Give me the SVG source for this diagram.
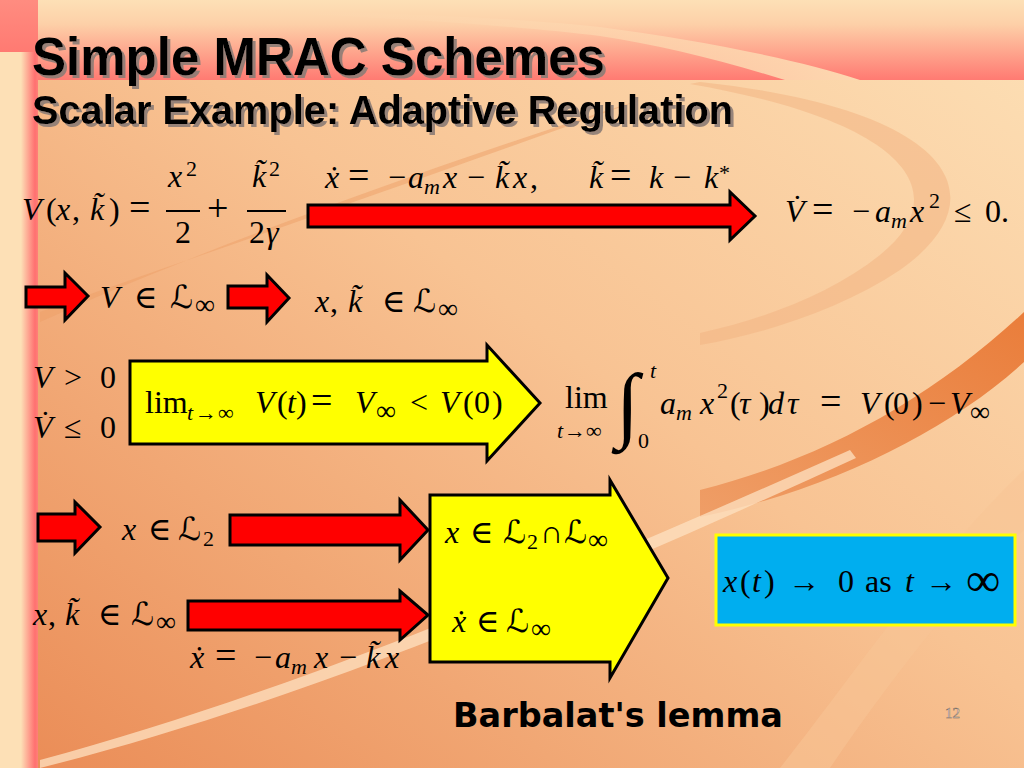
<svg xmlns="http://www.w3.org/2000/svg" width="1024" height="768" viewBox="0 0 1024 768">
<defs>
  <linearGradient id="gMain" x1="1" y1="0" x2="0" y2="1">
    <stop offset="0" stop-color="#fde0b6"/>
    <stop offset="0.45" stop-color="#f8c393"/>
    <stop offset="1" stop-color="#ea8b55"/>
  </linearGradient>
  <linearGradient id="gBand" x1="0" y1="0" x2="0" y2="1">
    <stop offset="0" stop-color="#fde0b6"/>
    <stop offset="0.3" stop-color="#fdd0a8"/>
    <stop offset="1" stop-color="#ff7a72"/>
  </linearGradient>
  <linearGradient id="gStrip" x1="0" y1="0" x2="1" y2="0">
    <stop offset="0" stop-color="#fde0b6"/>
    <stop offset="0.55" stop-color="#fde0b6"/>
    <stop offset="0.92" stop-color="#ff7070"/>
    <stop offset="1" stop-color="#ff8078"/>
  </linearGradient>
  <linearGradient id="gCorner" x1="0" y1="0" x2="0" y2="1">
    <stop offset="0" stop-color="#ff8c80"/>
    <stop offset="1" stop-color="#ff7a72"/>
  </linearGradient>
  <linearGradient id="gDark" x1="1" y1="0" x2="0" y2="1">
    <stop offset="0" stop-color="#e8742f"/>
    <stop offset="1" stop-color="#ee9a62"/>
  </linearGradient>
  <linearGradient id="gSwoosh" x1="0" y1="0" x2="1" y2="0">
    <stop offset="0" stop-color="#fdd8b0" stop-opacity="0"/>
    <stop offset="0.5" stop-color="#fdd8b0" stop-opacity="0.6"/>
    <stop offset="1" stop-color="#fdd8b0" stop-opacity="1"/>
  </linearGradient>
  <filter id="shadow" x="-5%" y="-20%" width="110%" height="140%">
    <feDropShadow dx="3" dy="3" stdDeviation="0.6" flood-color="#8c7c74" flood-opacity="0.9"/>
  </filter>
  <style>
    .m { font-family: "Liberation Serif", "Times New Roman", "DejaVu Serif", "DejaVu Sans", serif; font-size: 32px; fill: #000; }
    .i { font-style: italic; }
    .sub { font-size: 22px; }
    .inf { font-size: 28px; }
    .eq { font-size: 38px; }
    .big { font-size: 84px; }
    .huge { font-size: 48px; }
    .red { fill: #ff0000; stroke: #000; stroke-width: 3; stroke-linejoin: miter; }
    .yel { fill: #ffff00; stroke: #000; stroke-width: 3; stroke-linejoin: miter; }
    .frac { stroke: #000; stroke-width: 1.8; }
    .title { font-family: "Liberation Sans", Arial, sans-serif; font-weight: bold; fill: #000; }
  </style>
</defs>

<g id="background">
  <rect x="0" y="0" width="1024" height="768" fill="url(#gMain)"/>
  <rect x="38" y="0" width="986" height="80" fill="url(#gBand)"/>
  <path d="M 200 8 C 380 12 520 18 600 27 C 700 40 800 60 860 80 L 785 80 C 720 60 660 45 600 36 C 520 26 380 16 200 10 Z" fill="url(#gSwoosh)"/>
  <path d="M 40 322 C 200 250 420 170 640 100 C 420 180 200 255 40 312 Z" fill="#ee9f68" opacity="0.5"/>
  <path d="M 700 82 C 960 110 1000 200 900 270 C 840 310 760 335 700 345 L 700 333 C 760 320 830 295 880 255 C 960 190 900 120 690 84 Z" fill="#f2b483" opacity="0.55"/>
  <path d="M 1024 312 C 930 400 820 460 700 490 L 700 517 C 830 490 950 430 1024 362 Z" fill="url(#gDark)" opacity="0.9"/>
  <path d="M 40 760 C 300 690 580 570 850 450 L 856 458 C 590 580 310 700 40 768 Z" fill="#fde2c2" opacity="0.75"/>
  <path d="M 1024 470 C 930 560 850 680 780 768 L 830 768 C 890 680 960 590 1024 530 Z" fill="#f8c496" opacity="0.55"/>
  <rect x="0" y="52" width="38" height="716" fill="url(#gStrip)"/>
  <rect x="0" y="0" width="38" height="52" fill="url(#gCorner)"/>
</g>

<g id="title">
  <text class="title" x="32" y="75" font-size="54" textLength="573" lengthAdjust="spacingAndGlyphs" filter="url(#shadow)">Simple MRAC Schemes</text>
  <text class="title" x="32" y="124" font-size="40" textLength="701" lengthAdjust="spacingAndGlyphs" filter="url(#shadow)">Scalar Example: Adaptive Regulation</text>
</g>

<g id="connectors">
  <polygon class="red" points="308,205 730,205 730,192 755,216 730,240 730,227 308,227"/>
  <polygon class="red" points="26,287 65,287 65,273 88,296 65,320 65,307 26,307"/>
  <polygon class="red" points="228,286 267,286 267,275 289,298 267,322 267,308 228,308"/>
  <polygon class="red" points="38,514 75,514 75,502 100,527 75,553 75,541 38,541"/>
  <polygon class="red" points="230,515 400,515 400,500 428,530 400,560 400,545 230,545"/>
  <polygon class="red" points="188,601 400,601 400,591 428,615 400,640 400,630 188,630"/>
</g>

<g id="node-lyapunov">
  <text class="m"><tspan x="22" y="220" class="i">V</tspan><tspan x="46">(</tspan><tspan x="56" class="i">x</tspan><tspan x="72">,</tspan><tspan x="90" class="i">k̃</tspan><tspan x="109">)</tspan><tspan x="129" class="eq">=</tspan></text>
  <text class="m"><tspan x="168" y="187" class="i">x</tspan><tspan x="186" y="176" class="sub">2</tspan></text>
  <line class="frac" x1="166" y1="211" x2="200" y2="211"/>
  <text class="m" x="175" y="243">2</text>
  <text class="m"><tspan x="207" y="221" class="eq">+</tspan></text>
  <text class="m"><tspan x="252" y="187" class="i">k̃</tspan><tspan x="269" y="176" class="sub">2</tspan></text>
  <line class="frac" x1="247" y1="211" x2="286" y2="211"/>
  <text class="m"><tspan x="249" y="243">2</tspan><tspan x="266" class="i">γ</tspan></text>
</g>

<g id="node-dynamics">
  <text class="m"><tspan x="325" y="188" class="i">ẋ</tspan><tspan x="348" class="eq">=</tspan><tspan x="388">−</tspan><tspan x="408" class="i">a</tspan><tspan x="424" y="194" class="sub i">m</tspan><tspan x="443" y="188" class="i">x</tspan><tspan x="467">−</tspan><tspan x="495" class="i">k̃</tspan><tspan x="513" class="i">x</tspan><tspan x="530">,</tspan><tspan x="589" class="i">k̃</tspan><tspan x="610" class="eq">=</tspan><tspan x="649" class="i">k</tspan><tspan x="673">−</tspan><tspan x="704" class="i">k</tspan><tspan x="719" y="180" class="sub">*</tspan></text>
</g>

<g id="node-vdot">
  <text class="m"><tspan x="785" y="222" class="i">V̇</tspan><tspan x="812" class="eq">=</tspan><tspan x="852">−</tspan><tspan x="875" class="i">a</tspan><tspan x="891" y="228" class="sub i">m</tspan><tspan x="910" y="222" class="i">x</tspan><tspan x="929" y="208" class="sub">2</tspan><tspan x="954" y="222">≤</tspan><tspan x="985">0</tspan><tspan x="1001">.</tspan></text>
</g>

<g id="node-v-bounded">
  <text class="m"><tspan x="100" y="308" class="i">V</tspan><tspan x="134">∈</tspan><tspan x="170">ℒ</tspan><tspan x="195" y="314" class="inf">∞</tspan></text>
</g>

<g id="node-xk-bounded">
  <text class="m"><tspan x="315" y="312" class="i">x</tspan><tspan x="330">,</tspan><tspan x="348" class="i">k̃</tspan><tspan x="382">∈</tspan><tspan x="413">ℒ</tspan><tspan x="438" y="318" class="inf">∞</tspan></text>
</g>

<g id="node-conditions">
  <text class="m"><tspan x="33" y="388" class="i">V</tspan><tspan x="64">&gt;</tspan><tspan x="100">0</tspan></text>
  <text class="m"><tspan x="33" y="438" class="i">V̇</tspan><tspan x="64">≤</tspan><tspan x="100">0</tspan></text>
</g>

<g id="node-limit">
  <polygon class="yel" points="130,361 487,361 487,345 540,403 487,461 487,444 130,444"/>
  <text class="m"><tspan x="145" y="413">lim</tspan><tspan x="187" y="420" class="sub i">t</tspan><tspan x="195" class="sub">→</tspan><tspan x="218" class="sub">∞</tspan><tspan x="255" y="413" class="i">V</tspan><tspan x="277">(</tspan><tspan x="287" class="i">t</tspan><tspan x="296">)</tspan><tspan x="311" class="eq">=</tspan><tspan x="355" class="i">V</tspan><tspan x="376" y="420" class="inf">∞</tspan><tspan x="410" y="413">&lt;</tspan><tspan x="440" class="i">V</tspan><tspan x="463">(</tspan><tspan x="474">0</tspan><tspan x="492">)</tspan></text>
</g>

<g id="node-integral">
  <text class="m"><tspan x="565" y="408">lim</tspan></text>
  <text class="m"><tspan x="557" y="438" class="sub i">t</tspan><tspan x="564" class="sub">→</tspan><tspan x="586" class="sub">∞</tspan></text>
  <text class="m"><tspan x="616" y="432" class="big">∫</tspan></text>
  <text class="m"><tspan x="650" y="378" class="sub i">t</tspan><tspan x="638" y="448" class="sub">0</tspan></text>
  <text class="m"><tspan x="660" y="414" class="i">a</tspan><tspan x="676" y="420" class="sub i">m</tspan><tspan x="700" y="414" class="i">x</tspan><tspan x="717" y="398" class="sub">2</tspan><tspan x="730" y="414">(</tspan><tspan x="739" class="i">τ</tspan><tspan x="759">)</tspan><tspan x="768" class="i">d</tspan><tspan x="787" class="i">τ</tspan><tspan x="820" class="eq">=</tspan><tspan x="860" class="i">V</tspan><tspan x="884">(</tspan><tspan x="893">0</tspan><tspan x="912">)</tspan><tspan x="928">−</tspan><tspan x="950" class="i">V</tspan><tspan x="970" y="421" class="inf">∞</tspan></text>
</g>

<g id="node-x-l2">
  <text class="m"><tspan x="122" y="540" class="i">x</tspan><tspan x="148">∈</tspan><tspan x="178">ℒ</tspan><tspan x="203" y="546" class="sub">2</tspan></text>
</g>

<g id="node-xk-bounded-2">
  <text class="m"><tspan x="33" y="625" class="i">x</tspan><tspan x="48">,</tspan><tspan x="65" class="i">k̃</tspan><tspan x="98">∈</tspan><tspan x="131">ℒ</tspan><tspan x="156" y="631" class="inf">∞</tspan></text>
</g>

<g id="node-dynamics-2">
  <text class="m"><tspan x="190" y="668" class="i">ẋ</tspan><tspan x="215" class="eq">=</tspan><tspan x="254">−</tspan><tspan x="275" class="i">a</tspan><tspan x="291" y="674" class="sub i">m</tspan><tspan x="314" y="668" class="i">x</tspan><tspan x="339">−</tspan><tspan x="366" class="i">k̃</tspan><tspan x="385" class="i">x</tspan></text>
</g>

<g id="node-barbalat">
  <polygon class="yel" points="430,495 610,495 610,480 668,578 610,678 610,662 430,662"/>
  <text class="m"><tspan x="445" y="543" class="i">x</tspan><tspan x="470">∈</tspan><tspan x="503">ℒ</tspan><tspan x="527" y="549" class="sub">2</tspan><tspan x="540" y="543">∩</tspan><tspan x="564">ℒ</tspan><tspan x="588" y="549" class="inf">∞</tspan></text>
  <text class="m"><tspan x="452" y="632" class="i">ẋ</tspan><tspan x="476">∈</tspan><tspan x="506">ℒ</tspan><tspan x="531" y="638" class="inf">∞</tspan></text>
</g>

<g id="node-result">
  <rect x="716" y="535" width="299" height="90" fill="#00aeef" stroke="#ffff00" stroke-width="3"/>
  <text class="m"><tspan x="723" y="592" class="i">x</tspan><tspan x="740">(</tspan><tspan x="752" class="i">t</tspan><tspan x="764">)</tspan><tspan x="788">→</tspan><tspan x="838">0</tspan><tspan x="865">as</tspan><tspan x="905" class="i">t</tspan><tspan x="925">→</tspan><tspan x="966" y="596" class="huge">∞</tspan></text>
</g>

<g id="label-barbalat">
  <text x="453" y="727" font-family="'DejaVu Sans', Verdana, sans-serif" font-weight="bold" font-size="33" textLength="330" lengthAdjust="spacingAndGlyphs" fill="#000">Barbalat's lemma</text>
</g>

<g id="page-number">
  <text x="945" y="718" font-family="'Liberation Serif', serif" font-size="15" fill="#f4e6da" stroke="#7a6a60" stroke-width="0.5">12</text>
</g>
</svg>
